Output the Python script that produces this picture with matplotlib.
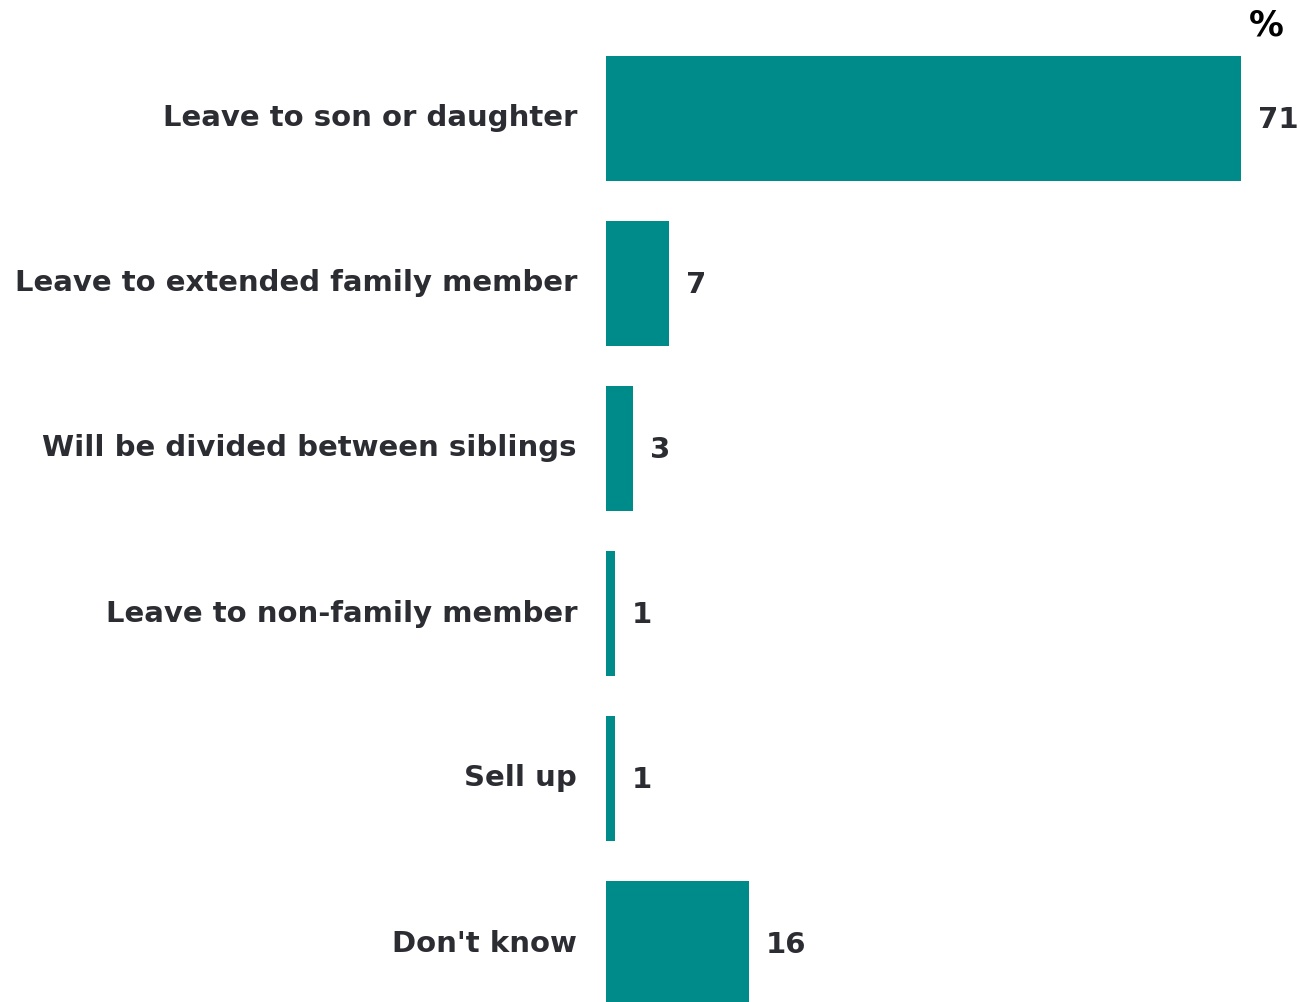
import matplotlib.pyplot as plt

categories = ["Leave to son or daughter", "Leave to extended family member",
              "Will be divided between siblings", "Leave to non-family member",
              "Sell up", "Don't know"]
values = [71, 7, 3, 1, 1, 16]

bar_color = "#008b8b"
text_color = "#2b2d33"

fig = plt.figure(figsize=(13, 10.02), dpi=100)
# axes spans from the bar baseline to the right edge, full height
ax = fig.add_axes([606 / 1300, 0, 694 / 1300, 1])

px_per_unit = 635 / 71
ax.set_xlim(0, 694 / px_per_unit)
ax.set_ylim((1002 - 118.5) / 165, -118.5 / 165)

ypos = list(range(len(categories)))
ax.barh(ypos, values, height=125 / 165, color=bar_color)

for y, v, c in zip(ypos, values, categories):
    ax.text(v + 17 / px_per_unit, y + 0.01, str(v), va="center", ha="left",
            fontsize=21, fontweight="bold", color=text_color)
    ax.text(-29 / px_per_unit, y, c, va="center", ha="right",
            fontsize=21, fontweight="bold", color=text_color, clip_on=False)

ax.axis("off")
fig.text(1266 / 1300, 1 - 25 / 1002, "%", ha="center", va="center",
         fontsize=25, fontweight="bold", color="black")

fig.savefig("out.png", dpi=100)
